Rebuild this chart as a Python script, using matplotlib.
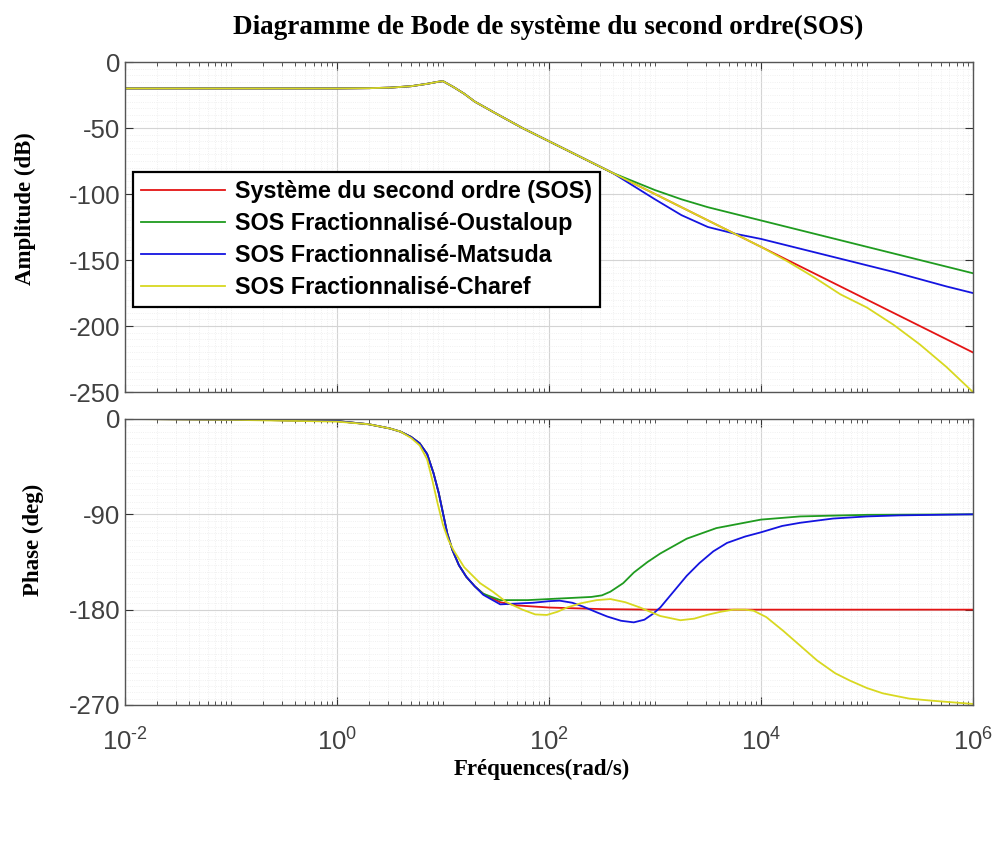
import matplotlib
matplotlib.use("Agg")
import matplotlib.pyplot as plt
import numpy as np
from matplotlib.ticker import FixedLocator, LogLocator, NullFormatter, FuncFormatter

# --- data (frequencies given as log10(rad/s)) ---
labels = ["Système du second ordre (SOS)",
          "SOS Fractionnalisé-Oustaloup",
          "SOS Fractionnalisé-Matsuda",
          "SOS Fractionnalisé-Charef"]

# amplitude (dB)
lw_amp = [-2, -1, 0, 0.3, 0.5, 0.7, 0.85, 0.95, 1.0, 1.1, 1.2, 1.3, 1.5, 1.75, 2.0, 2.3,
          2.6, 2.8, 3.0, 3.25, 3.5, 3.75, 4.0, 4.25, 4.5, 4.75, 5.0, 5.25, 5.5, 5.75, 6.0]
amp_sos = [-20, -20, -20, -19.8, -19.4, -18.3, -16.5, -15, -14.5, -19, -24, -30, -39, -50, -60, -72,
           -84, -92, -100, -110, -120, -130, -140, -150, -160, -170, -180, -190, -200, -210, -220]
amp_oust = [-20, -20, -20, -19.8, -19.4, -18.3, -16.5, -15, -14.5, -19, -24, -30, -39, -50, -60, -72,
            -84, -90.5, -97, -104, -110, -115, -120, -125, -130, -135, -140, -145, -150, -155, -160]
amp_mats = [-20, -20, -20, -19.8, -19.4, -18.3, -16.5, -15, -14.5, -19, -24, -30, -39, -50, -60, -72,
            -84, -94, -104, -116, -125, -130, -134, -139, -144, -149, -154, -159, -164.5, -170, -175]
amp_charef = [-20, -20, -20, -19.8, -19.4, -18.3, -16.5, -15, -14.5, -19, -24, -30, -39, -50, -60, -72,
              -84, -92, -100, -110, -120, -130, -140, -151, -163, -176, -186, -199, -214, -231, -250]

# phase (deg)
lw_ph_sos = [-2, -1, 0, 0.3, 0.5, 0.6, 0.7, 0.78, 0.85, 0.91, 0.96, 1.0, 1.04, 1.09, 1.15, 1.22, 1.3,
             1.38, 1.54, 1.7, 2.0, 2.5, 3.0, 6.0]
ph_sos = [0, -0.5, -2, -5, -9, -12, -17, -23, -33, -51, -70, -89, -108, -124, -138, -149, -158,
          -165, -173, -176, -178, -179.5, -180, -180]

lw_ph_oust = [-2, -1, 0, 0.3, 0.5, 0.6, 0.7, 0.78, 0.85, 0.91, 0.96, 1.0, 1.04, 1.09, 1.15, 1.22, 1.3,
              1.38, 1.54, 1.8, 2.0, 2.2, 2.4, 2.5, 2.58, 2.7, 2.8, 2.93, 3.05, 3.3, 3.58, 4.0, 4.37, 5.0, 6.0]
ph_oust = [0, -0.5, -2, -5, -9, -12, -17, -23, -33, -51, -70, -89, -108, -124, -138, -149, -158,
           -165, -171, -171, -170, -169, -168, -166.5, -163, -155, -145, -135, -127, -113, -103, -95, -92,
           -90.5, -90]

lw_ph_mats = [-2, -1, 0, 0.3, 0.5, 0.6, 0.7, 0.78, 0.85, 0.91, 0.96, 1.0, 1.04, 1.09, 1.15, 1.22, 1.3,
              1.38, 1.54, 1.85, 2.0, 2.1, 2.22, 2.32, 2.45, 2.55, 2.68, 2.8, 2.9, 2.98, 3.05, 3.1, 3.2, 3.3,
              3.42, 3.55, 3.68, 3.85, 4.0, 4.2, 4.37, 4.68, 5.0, 5.31, 6.0]
ph_mats = [0, -0.5, -2, -5, -9, -12, -17, -23, -33, -51, -70, -89, -108, -124, -138, -149, -158,
           -166, -175, -173.5, -172, -171.5, -173.5, -177, -182.5, -186.5, -190.5, -192, -189.5, -184, -178,
           -172, -160, -148, -136, -125, -117, -111, -107, -101, -98, -94, -92, -91, -90]

lw_ph_charef = [-2, -1, 0, 0.3, 0.5, 0.6, 0.7, 0.78, 0.85, 0.9, 0.95, 1.0, 1.05, 1.1, 1.2, 1.35, 1.47,
                1.6, 1.75, 1.87, 1.98, 2.08, 2.17, 2.3, 2.45, 2.58, 2.72, 2.86, 3.05, 3.24, 3.37, 3.49,
                3.62, 3.74, 3.85, 3.93, 4.05, 4.21, 4.37, 4.53, 4.7, 4.84, 5.0, 5.15, 5.4, 5.62, 6.0]
ph_charef = [0, -0.8, -2.5, -5, -9, -12, -18, -25, -38, -58, -80, -100, -114, -124, -140, -155, -163,
             -173, -180, -184.5, -185, -182, -178, -174, -171, -170, -173, -178, -186, -190, -188.5, -185,
             -182, -180, -180, -181, -187, -200, -214, -228, -240, -247, -254, -259, -264, -266, -269]

colors = ["#e41414", "#1f9b1f", "#1414e0", "#d8d820"]

serif = "Liberation Serif"
sans = "Liberation Sans"
plt.rcParams["font.family"] = sans
plt.rcParams["axes.unicode_minus"] = False
plt.rcParams["mathtext.fontset"] = "custom"
plt.rcParams["mathtext.rm"] = sans
plt.rcParams["mathtext.it"] = sans

fig = plt.figure(figsize=(9.94, 8.44), dpi=100)
ax1 = fig.add_axes([0.1258, 0.5355, 0.853, 0.391])
ax2 = fig.add_axes([0.1258, 0.1647, 0.853, 0.3389])

w_amp = 10 ** np.array(lw_amp)
for vals, c, lab in zip([amp_sos, amp_oust, amp_mats, amp_charef], colors, labels):
    ax1.plot(w_amp, vals, color=c, lw=1.3, label=lab)

for lw_, vals, c in zip([lw_ph_sos, lw_ph_oust, lw_ph_mats, lw_ph_charef],
                        [ph_sos, ph_oust, ph_mats, ph_charef], colors):
    ax2.plot(10 ** np.array(lw_), vals, color=c, lw=1.3)

ax1.set_ylim(-250, 0)
ax1.set_yticks([0, -50, -100, -150, -200, -250])
ax1.yaxis.set_minor_locator(FixedLocator(np.arange(-250, 1, 5)))
ax2.set_ylim(-270, 0)
ax2.set_yticks([0, -90, -180, -270])
ax2.yaxis.set_minor_locator(FixedLocator(np.arange(-270, 1, 6)))

for ax in (ax1, ax2):
    ax.set_xscale("log")
    ax.set_xlim(1e-2, 1e6)
    ax.set_xticks([1e-2, 1e0, 1e2, 1e4, 1e6])
    ax.xaxis.set_minor_locator(LogLocator(base=10, subs=np.arange(1, 10), numticks=100))
    ax.xaxis.set_minor_formatter(NullFormatter())
    ax.grid(True, which="major", color="#d4d4d4", lw=0.8)
    ax.grid(True, which="minor", color="#ececec", lw=0.6, ls=":")
    ax.tick_params(which="both", direction="in", top=True, right=True, colors="#333333",
                   labelcolor="#404040", labelsize=18.5)
    ax.tick_params(which="major", length=6)
    ax.tick_params(axis="x", which="minor", length=3)
    ax.tick_params(axis="y", which="minor", length=0)
    for s in ax.spines.values():
        s.set_color("#555555")
        s.set_linewidth(1.0)
    ax.set_axisbelow(True)


def decade_label(x, pos):
    e = int(round(np.log10(x)))
    sign = r"\text{-}" if e < 0 else ""
    return r"$10^{%s%d}$" % (sign, abs(e))


ax1.tick_params(axis="x", labelbottom=False)
ax2.xaxis.set_major_formatter(FuncFormatter(decade_label))
ax2.tick_params(axis="x", pad=17)

leg = ax1.legend(loc="upper left", bbox_to_anchor=(0.0094, 0.667), borderaxespad=0,
                 prop={"family": sans, "weight": "bold", "size": 16.8}, handlelength=3.6,
                 labelspacing=0.38, fancybox=False, framealpha=1, edgecolor="black",
                 borderpad=0.35, handletextpad=0.4)
leg.get_frame().set_linewidth(1.6)

fig.text(0.551, 0.968, "Diagramme de Bode de système du second ordre(SOS)", ha="center", va="center",
         family=serif, weight="bold", fontsize=19.5)
fig.text(25 / 994, 1 - 209 / 844, "Amplitude (dB)", rotation=90, ha="center", va="center",
         family=serif, weight="bold", fontsize=16.5)
fig.text(33 / 994, 1 - 540 / 844, "Phase (deg)", rotation=90, ha="center", va="center",
         family=serif, weight="bold", fontsize=16.5)
fig.text(542 / 994, 1 - 769 / 844, "Fréquences(rad/s)", ha="center", va="center",
         family=serif, weight="bold", fontsize=16.5)

fig.savefig("out.png", dpi=100)
